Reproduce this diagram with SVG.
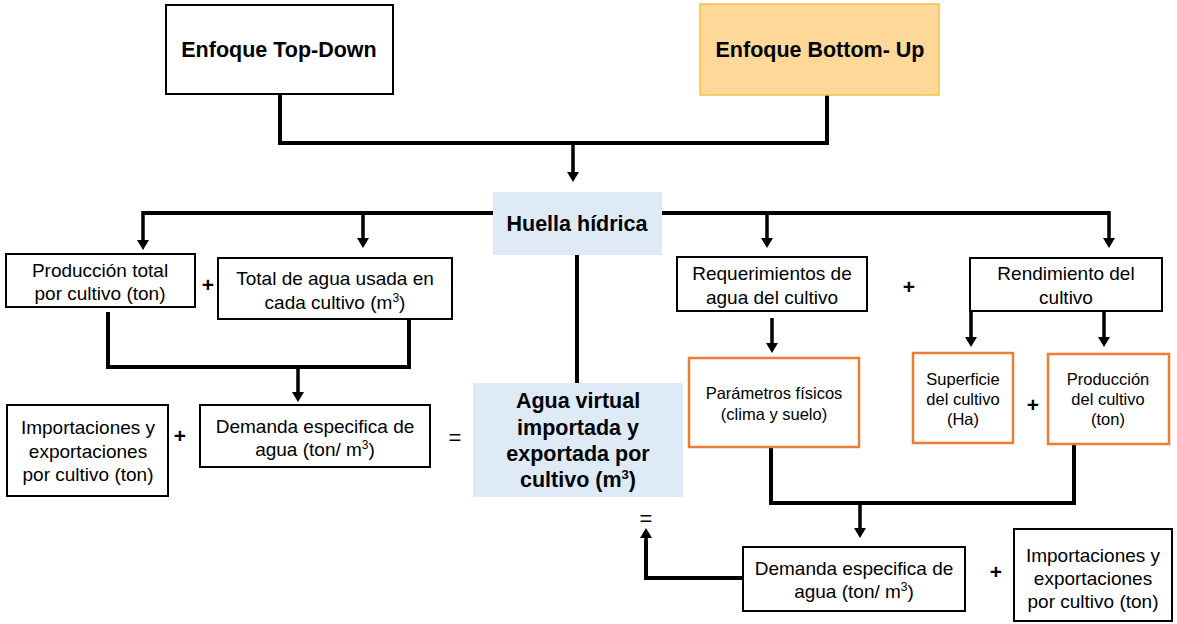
<svg xmlns="http://www.w3.org/2000/svg" width="1177" height="624" viewBox="0 0 1177 624">
  <style>
    .box { fill: #ffffff; stroke: #000000; stroke-width: 2; }
    .obox { fill: #ffffff; stroke: #ED7D31; stroke-width: 2.5; }
    .blue { fill: #DEEBF7; stroke: none; }
    .gold { fill: #FDD899; stroke: #F6C044; stroke-width: 1.5; }
    .t { font-family: "Liberation Sans", Arial, sans-serif; font-size: 19px; fill: #000; text-anchor: middle; }
    .ts { font-family: "Liberation Sans", Arial, sans-serif; font-size: 16.5px; fill: #000; text-anchor: middle; }
    .tb { font-family: "Liberation Sans", Arial, sans-serif; font-size: 21.5px; font-weight: bold; fill: #000; text-anchor: middle; }
    .op { font-family: "Liberation Sans", Arial, sans-serif; font-size: 21px; font-weight: bold; fill: #000; text-anchor: middle; }
    .eq { font-family: "Liberation Sans", Arial, sans-serif; font-size: 22px; fill: #000; text-anchor: middle; }
    .wire { fill: none; stroke: #000; stroke-width: 4; }
    .arr { fill: none; stroke: #000; stroke-width: 3.5; marker-end: url(#head); }
  </style>
  <defs>
    <marker id="head" markerUnits="userSpaceOnUse" viewBox="0 0 10 12" markerWidth="10" markerHeight="12" refX="1" refY="6" orient="auto">
      <path d="M0,0 L10,6 L0,12 z" fill="#000"/>
    </marker>
  </defs>

  <!-- connectors -->
  <g id="connectors">
    <path class="wire" d="M280,94 V143 H827 V95"/>
    <path class="arr" d="M573,143 V173"/>
    <path class="wire" d="M493,213 H143"/>
    <path class="arr" d="M143,211 V241"/>
    <path class="arr" d="M363,213 V239"/>
    <path class="wire" d="M662,213 H1109"/>
    <path class="arr" d="M1109,211 V239"/>
    <path class="arr" d="M767,213 V239"/>
    <path class="wire" d="M577,255 V383"/>
    <path class="wire" d="M108,312 V367 H409 V319"/>
    <path class="arr" d="M298,367 V393"/>
    <path class="arr" d="M772,318 V344"/>
    <path class="arr" d="M971,311 V338"/>
    <path class="arr" d="M1104,311 V338"/>
    <path class="wire" d="M771,447 V503 H1074 V444"/>
    <path class="arr" d="M860,503 V529"/>
    <path class="wire" d="M743,578 H646 V540"/>
    <path class="arr" d="M646,542 V537"/>
  </g>

  <g id="top-down">
    <rect class="box" x="166" y="5" width="227" height="89"/>
    <text class="tb" x="279" y="57">Enfoque Top-Down</text>
  </g>

  <g id="bottom-up">
    <rect class="gold" x="700" y="4" width="239" height="91"/>
    <text class="tb" x="820" y="57">Enfoque Bottom- Up</text>
  </g>

  <g id="huella">
    <rect class="blue" x="493" y="192" width="169" height="63"/>
    <text class="tb" x="577" y="231">Huella hídrica</text>
  </g>

  <g id="produccion-total">
    <rect class="box" x="6" y="254" width="189" height="53"/>
    <text class="t" x="100" y="277">Producción total</text>
    <text class="t" x="100" y="300">por cultivo (ton)</text>
  </g>

  <text class="op" x="208" y="292">+</text>

  <g id="total-agua">
    <rect class="box" x="218" y="258" width="234" height="61"/>
    <text class="t" x="335" y="285">Total de agua usada en</text>
    <text class="t" x="335" y="309">cada cultivo (m<tspan font-size="12" dy="-7">3</tspan><tspan dy="7">)</tspan></text>
  </g>

  <g id="importaciones-izq">
    <rect class="box" x="7" y="405" width="161" height="91"/>
    <text class="t" x="88" y="434">Importaciones y</text>
    <text class="t" x="88" y="458">exportaciones</text>
    <text class="t" x="88" y="481">por cultivo (ton)</text>
  </g>

  <text class="op" x="180" y="443">+</text>

  <g id="demanda-izq">
    <rect class="box" x="200" y="405" width="230" height="62"/>
    <text class="t" x="315" y="433">Demanda especifica de</text>
    <text class="t" x="315" y="456">agua (ton/ m<tspan font-size="12" dy="-7">3</tspan><tspan dy="7">)</tspan></text>
  </g>

  <text class="eq" x="455" y="445">=</text>

  <g id="agua-virtual">
    <rect class="blue" x="473" y="383" width="210" height="114"/>
    <text class="tb" x="578" y="408">Agua virtual</text>
    <text class="tb" x="578" y="435">importada y</text>
    <text class="tb" x="578" y="461">exportada por</text>
    <text class="tb" x="578" y="487">cultivo (m<tspan font-size="13" dy="-8">3</tspan><tspan dy="8">)</tspan></text>
  </g>

  <g id="requerimientos">
    <rect class="box" x="677" y="257" width="190" height="54"/>
    <text class="t" x="772" y="280">Requerimientos de</text>
    <text class="t" x="772" y="304">agua del cultivo</text>
  </g>

  <text class="op" x="909" y="294">+</text>

  <g id="rendimiento">
    <rect class="box" x="970" y="258" width="192" height="53"/>
    <text class="t" x="1066" y="280">Rendimiento del</text>
    <text class="t" x="1066" y="304">cultivo</text>
  </g>

  <g id="parametros">
    <rect class="obox" x="689" y="358" width="170" height="89"/>
    <text class="ts" x="774" y="399">Parámetros físicos</text>
    <text class="ts" x="774" y="420">(clima y suelo)</text>
  </g>

  <g id="superficie">
    <rect class="obox" x="913" y="353" width="100" height="90"/>
    <text class="ts" x="963" y="385">Superficie</text>
    <text class="ts" x="963" y="405">del cultivo</text>
    <text class="ts" x="963" y="425">(Ha)</text>
  </g>

  <text class="op" x="1033" y="412">+</text>

  <g id="produccion-cultivo">
    <rect class="obox" x="1048" y="354" width="121" height="90"/>
    <text class="ts" x="1108" y="385">Producción</text>
    <text class="ts" x="1108" y="405">del cultivo</text>
    <text class="ts" x="1108" y="425">(ton)</text>
  </g>

  <text class="eq" x="646" y="526">=</text>

  <g id="demanda-der">
    <rect class="box" x="743" y="547" width="222" height="64"/>
    <text class="t" x="854" y="575">Demanda especifica de</text>
    <text class="t" x="854" y="598">agua (ton/ m<tspan font-size="12" dy="-7">3</tspan><tspan dy="7">)</tspan></text>
  </g>

  <text class="op" x="996" y="579">+</text>

  <g id="importaciones-der">
    <rect class="box" x="1014" y="529" width="158" height="92"/>
    <text class="t" x="1093" y="562">Importaciones y</text>
    <text class="t" x="1093" y="585">exportaciones</text>
    <text class="t" x="1093" y="608">por cultivo (ton)</text>
  </g>
</svg>
